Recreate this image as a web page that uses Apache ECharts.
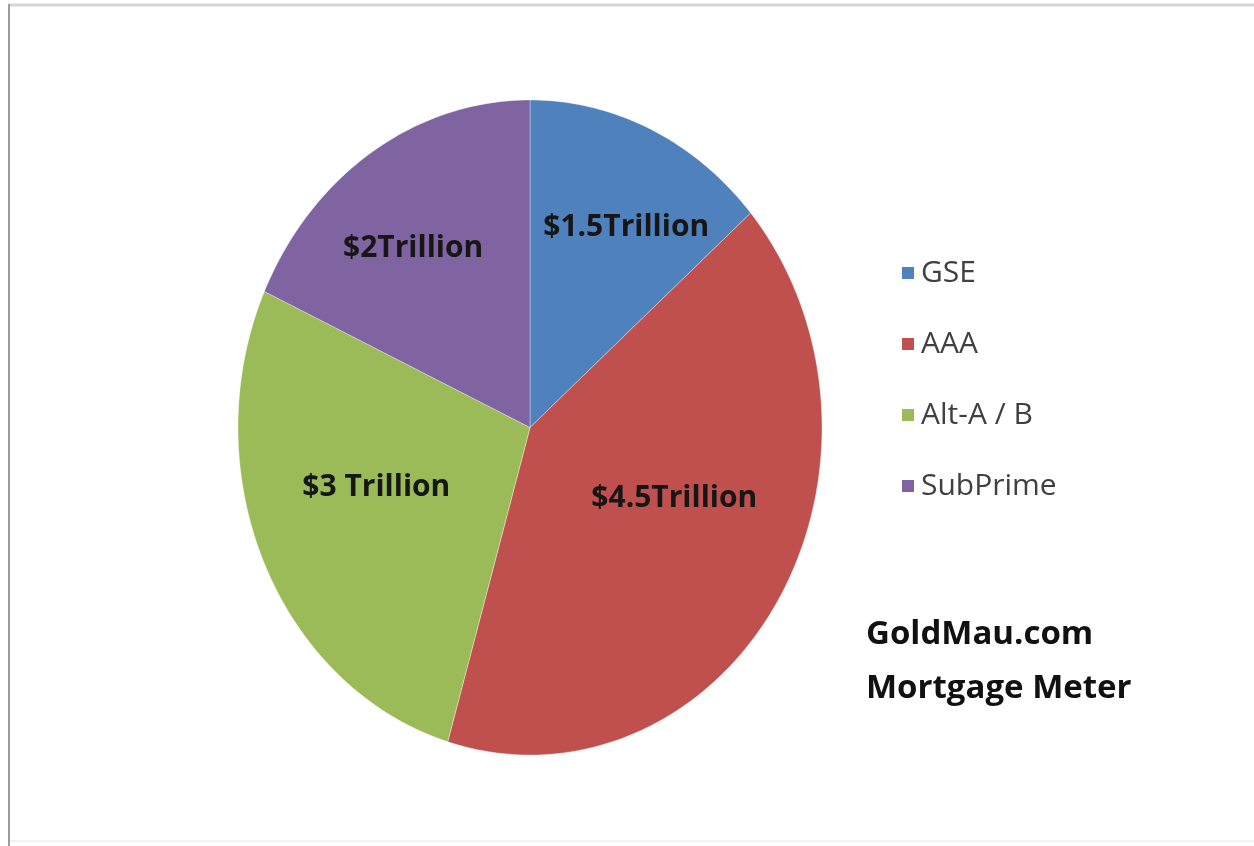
<!DOCTYPE html>
<html>
<head>
<meta charset="utf-8">
<title>Mortgage Meter</title>
<script src="https://cdn.jsdelivr.net/npm/echarts@6/dist/echarts.min.js"></script>
<style>
  html, body { margin: 0; padding: 0; background: #fff; }
  #chart { width: 1254px; height: 846px; }
</style>
</head>
<body>
<div id="chart"></div>
<script>
// Mortgage market segments (trillions of dollars)
const categories = ['GSE', 'AAA', 'Alt-A / B', 'SubPrime'];
const values = [1.5, 4.5, 3, 2];
const valueLabels = ['$1.5Trillion', '$4.5Trillion', '$3 Trillion', '$2Trillion'];

const colors = ['#4F81BD', '#C0504D', '#9BBB59', '#8064A2'];
// pixel nudges for the in-slice labels, relative to the mid-angle anchor
const labelNudge = [[21, -15], [-8, -39], [11, -24], [-19, -8]];
const labelRadius = 0.62;
const FONT = '"Open Sans", Lato, sans-serif';

const total = values.reduce((a, b) => a + b, 0);
const starts = values.map((v, i) => values.slice(0, i).reduce((a, b) => a + b, 0));

// each slice is drawn in a [-1,1] x [-1,1] cartesian frame so the grid's
// aspect ratio gives the pie its oval shape; angles run clockwise from 12 o'clock
function sliceRenderer(i) {
  return function (params, api) {
    const v = api.value(0);
    const a0 = starts[i] / total * Math.PI * 2;
    const a1 = (starts[i] + v) / total * Math.PI * 2;
    const steps = Math.max(2, Math.ceil((a1 - a0) / (Math.PI / 180)));
    const pts = [api.coord([0, 0])];
    for (let k = 0; k <= steps; k++) {
      const t = a0 + (a1 - a0) * k / steps;
      pts.push(api.coord([Math.sin(t), Math.cos(t)]));
    }
    const mid = (a0 + a1) / 2;
    const anchor = api.coord([labelRadius * Math.sin(mid), labelRadius * Math.cos(mid)]);
    return {
      type: 'group',
      children: [
        {
          type: 'polygon',
          shape: { points: pts },
          style: { fill: colors[i], stroke: 'rgba(255,255,255,0.35)', lineWidth: 1 }
        },
        {
          type: 'text',
          x: anchor[0] + labelNudge[i][0],
          y: anchor[1] + labelNudge[i][1],
          style: {
            text: valueLabels[i],
            fill: '#161616',
            fontFamily: FONT,
            fontWeight: 'bold',
            fontSize: 30,
            align: 'center',
            verticalAlign: 'middle'
          }
        }
      ]
    };
  };
}

const chart = echarts.init(document.getElementById('chart'), null, { renderer: 'canvas' });

chart.setOption({
  backgroundColor: '#ffffff',
  animation: false,
  grid: { left: 238, top: 100, width: 584, height: 655 },
  xAxis: { type: 'value', min: -1, max: 1, show: false },
  yAxis: { type: 'value', min: -1, max: 1, show: false },
  legend: {
    orient: 'vertical',
    left: 897,
    top: 253,
    data: categories,
    icon: 'rect',
    itemWidth: 12,
    itemHeight: 12,
    itemGap: 41,
    selectedMode: false,
    textStyle: { fontFamily: FONT, fontSize: 30, color: '#404040', lineHeight: 30, padding: [0, 0, 0, 2] }
  },
  graphic: [
    { type: 'line', shape: { x1: 8, y1: 5, x2: 1254, y2: 5 }, style: { stroke: '#d6d6d6', lineWidth: 3 }, silent: true },
    { type: 'line', shape: { x1: 9, y1: 4, x2: 9, y2: 846 }, style: { stroke: '#9e9e9e', lineWidth: 2 }, silent: true },
    { type: 'line', shape: { x1: 10, y1: 841, x2: 1254, y2: 841 }, style: { stroke: '#f2f2f2', lineWidth: 2 }, silent: true },
    {
      type: 'text', left: 866, top: 618,
      style: { text: 'GoldMau.com', fill: '#111111', fontFamily: FONT, fontWeight: 'bold', fontSize: 33 }
    },
    {
      type: 'text', left: 866, top: 672,
      style: { text: 'Mortgage Meter', fill: '#111111', fontFamily: FONT, fontWeight: 'bold', fontSize: 33 }
    }
  ],
  series: categories.map((name, i) => ({
    name: name,
    type: 'custom',
    coordinateSystem: 'cartesian2d',
    renderItem: sliceRenderer(i),
    itemStyle: { color: colors[i] },
    silent: true,
    data: [[values[i], 0]]
  }))
});
</script>
</body>
</html>
